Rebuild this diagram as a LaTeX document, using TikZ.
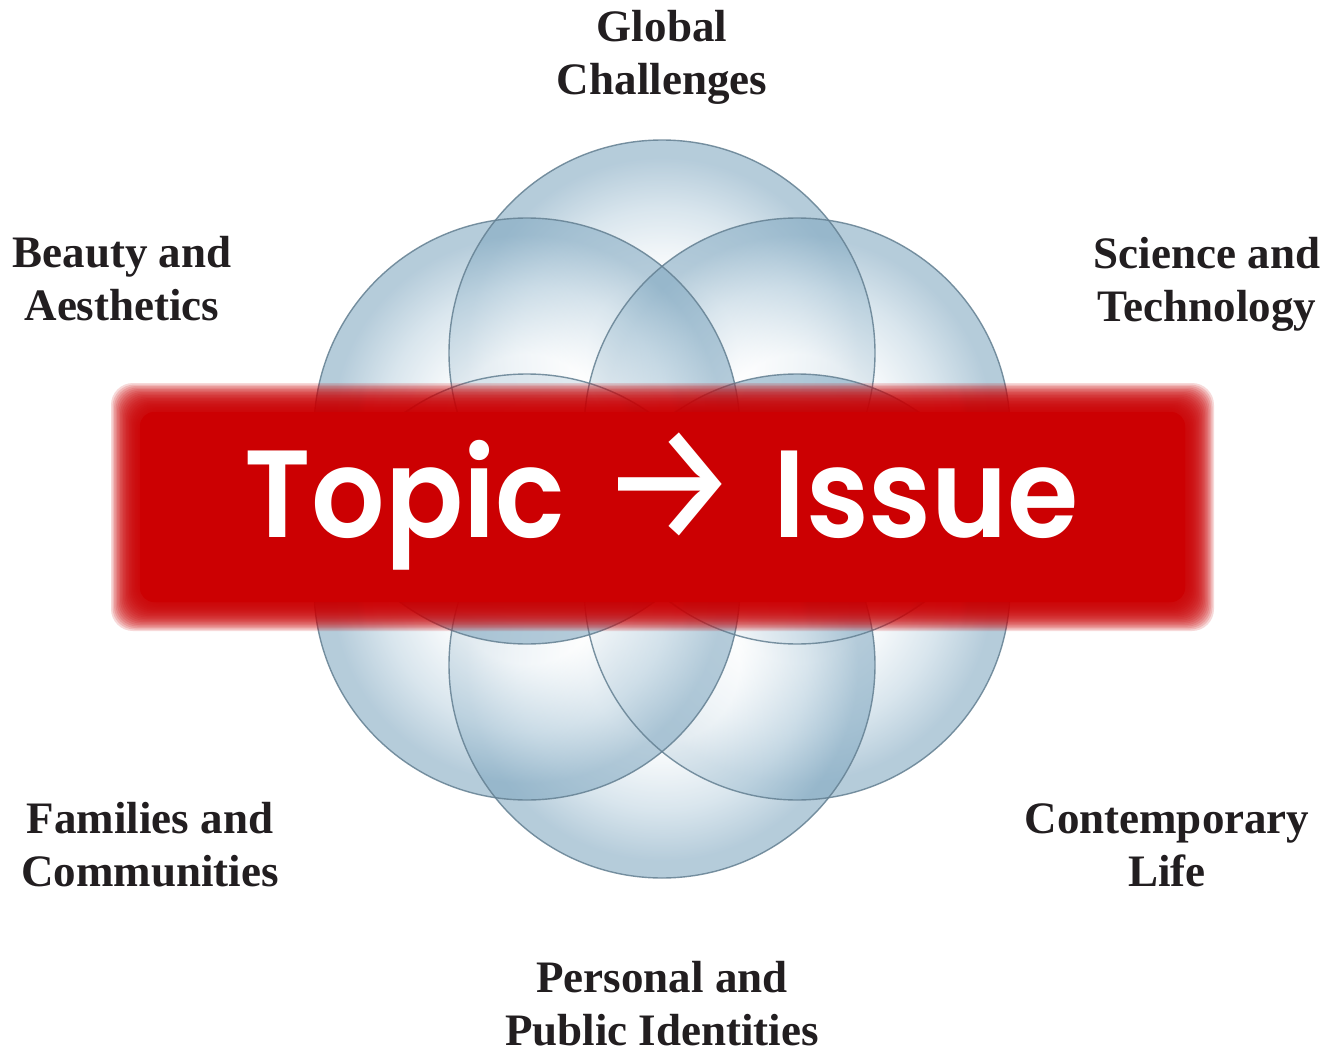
\documentclass[tikz,border=0pt]{standalone}
\usepackage{fontspec}
\setmainfont{Liberation Serif}
\newfontfamily\bannerfont{Poppins SemiBold}
\newfontfamily\arrowfont{Fira Sans}
\usetikzlibrary{calc}

\definecolor{bubbleEdge}{RGB}{132,170,194}
\definecolor{bubbleMid}{RGB}{192,213,226}
\definecolor{bubbleLine}{RGB}{100,128,146}
\definecolor{bannerRed}{RGB}{204,0,2}
\definecolor{labelInk}{RGB}{34,30,32}

\pgfdeclareradialshading{bubble}{\pgfpoint{0bp}{0bp}}{%
  color(0bp)=(white); color(9bp)=(white); color(17bp)=(bubbleMid);
  color(23bp)=(bubbleEdge); color(25bp)=(bubbleEdge); color(50bp)=(bubbleEdge)}

\tikzset{
  bubblefill/.style={shading=bubble, fill opacity=0.6},
  bubblerim/.style={draw=bubbleLine, line width=1.4pt, draw opacity=0.85},
  topiclabel/.style={font=\fontsize{45}{53}\selectfont\bfseries, text=labelInk,
    align=center, inner sep=0pt, anchor=base},
}

\begin{document}
\begin{tikzpicture}[x=1pt,y=-1pt]
\useasboundingbox (0,0) rectangle (1326,1054);
\fill[white] (0,0) rectangle (1326,1054);

% six overlapping bubbles around the centre of the flower
\coordinate (ctr) at (662,509);
\foreach \ang/\nm in {90/gc, 30/st, 330/cl, 270/pp, 210/fc, 150/ba}{
  \coordinate (\nm) at ($(ctr)+(\ang:156 and -156)$);
}
\foreach \nm in {gc,st,cl,pp,fc,ba}{
  \shade[bubblefill] (\nm) circle[radius=213];
}
\foreach \nm in {gc,st,cl,pp,fc,ba}{
  \draw[bubblerim] (\nm) circle[radius=213];
}

% soft-edged red banner: stacked translucent layers fade the rim
\foreach \k in {0,...,19}{
  \fill[bannerRed, fill opacity=0.15, rounded corners=22pt]
    ({111+1.5*\k},{383+1.5*\k}) rectangle ({1214-1.5*\k},{631-1.5*\k});
}
\fill[bannerRed, rounded corners=14pt] (140,412) rectangle (1185,602);
\node[text=white, inner sep=0pt, anchor=base] (banner) at (662,537)
  {\scalebox{0.93}[1]{\fontsize{124}{124}\selectfont\bannerfont Topic\hspace{0.3em}{\arrowfont\raisebox{-2pt}{\scalebox{1.35}{→}}}\hspace{0.3em}Issue}};

% topic labels (anchored at the baseline of the last line)
\node[topiclabel] (global)   at (662,95)   {Global\\Challenges};
\node[topiclabel] (beauty)   at (122,320)  {Beauty and\\Aesthetics};
\node[topiclabel] (science)  at (1207,321) {Science and\\Technology};
\node[topiclabel] (families) at (150,886)  {Families and\\Communities};
\node[topiclabel] (contemp)  at (1167,886) {Contemporary\\Life};
\node[topiclabel] (personal) at (662,1045) {Personal and\\Public Identities};
\end{tikzpicture}
\end{document}
